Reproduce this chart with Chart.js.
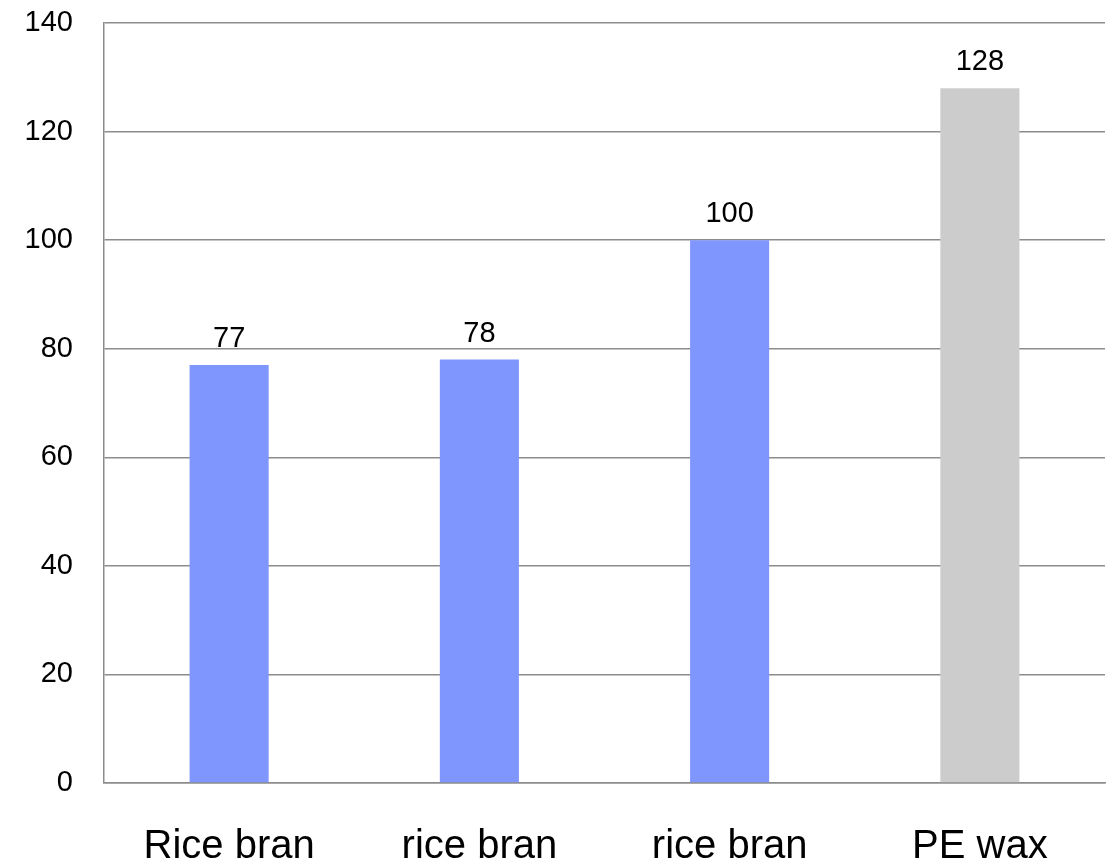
<!DOCTYPE html>
<html>
<head>
<meta charset="utf-8">
<script src="https://cdn.jsdelivr.net/npm/chart.js@4/dist/chart.umd.min.js"></script>
<style>
  html, body { margin: 0; padding: 0; background: #ffffff; }
  #wrap { width: 1117px; height: 863px; }
</style>
</head>
<body>
<div id="wrap"><canvas id="c" width="1117" height="863"></canvas></div>
<script>
const categories = ["Rice bran", "rice bran", "rice bran", "PE wax"];
const values = [77, 78, 100, 128];
const yTicks = [0, 20, 40, 60, 80, 100, 120, 140];

const barColors = ["#7F96FF", "#7F96FF", "#7F96FF", "#CCCCCC"];
const FONT = "'Liberation Sans', Arial, sans-serif";

const valueLabels = {
  id: 'valueLabels',
  afterDatasetsDraw(chart) {
    const ctx = chart.ctx;
    const meta = chart.getDatasetMeta(0);
    ctx.save();
    ctx.font = "29px " + FONT;
    ctx.fillStyle = "#000000";
    ctx.textAlign = "center";
    ctx.textBaseline = "alphabetic";
    meta.data.forEach((bar, i) => {
      ctx.fillText(String(values[i]), bar.x, bar.y - 18);
    });
    ctx.restore();
  }
};

new Chart(document.getElementById('c'), {
  type: 'bar',
  data: {
    labels: categories,
    datasets: [{
      data: values,
      backgroundColor: barColors,
      borderWidth: 0,
      categoryPercentage: 0.316,
      barPercentage: 1.0
    }]
  },
  options: {
    responsive: false,
    animation: false,
    devicePixelRatio: 1,
    layout: { padding: { top: 23, right: 12, left: 0, bottom: 0 } },
    plugins: {
      legend: { display: false },
      tooltip: { enabled: false },
      title: { display: false }
    },
    scales: {
      x: {
        grid: { display: false, drawTicks: false },
        border: { display: true, color: '#8c8c8c', width: 1.5 },
        ticks: {
          color: '#000000',
          font: { family: FONT, size: 40 },
          padding: 40,
          maxRotation: 0,
          autoSkip: false
        },
        afterFit(scale) {
          scale.height = 80;
          scale.paddingLeft = 0; scale.paddingRight = 0;
        }
      },
      y: {
        min: 0,
        max: 140,
        afterBuildTicks(scale) { scale.ticks = yTicks.map(v => ({ value: v })); },
        grid: { color: '#8c8c8c', lineWidth: 1.5, drawTicks: false },
        border: { display: true, color: '#8c8c8c', width: 1.5 },
        ticks: {
          color: '#000000',
          font: { family: FONT, size: 29 },
          padding: 31
        },
        afterFit(scale) {
          scale.width = 104;
          scale.paddingTop = 0; scale.paddingBottom = 0;
        }
      }
    }
  },
  plugins: [valueLabels]
});
</script>
</body>
</html>
